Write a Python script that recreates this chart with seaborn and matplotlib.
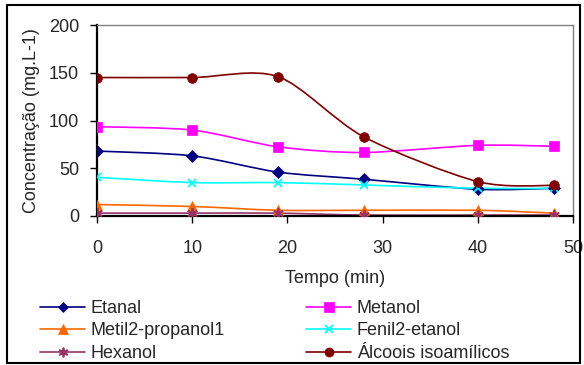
import numpy as np
import pandas as pd
import seaborn as sns
import matplotlib
matplotlib.use("Agg")
import matplotlib.pyplot as plt
from matplotlib.path import Path
from matplotlib.patches import PathPatch, Rectangle
from matplotlib.lines import Line2D

# Sampling times (min)
tempo = [0, 10, 19, 28, 40, 48]

# Concentrations (mg.L-1)
etanal = [68, 63, 46, 38.5, 28, 29]
metanol = [93.5, 90, 72.5, 66.5, 74, 73]
metil2_propanol1 = [12, 10, 6, 6, 6, 3]
fenil2_etanol = [40.5, 35, 35, 32.5, 29, 29]
hexanol = [3, 3, 3, 1, 1, 1]
alcoois_isoamilicos = [145, 145, 146, 83, 36, 32]

series_names = ["Etanal", "Metanol", "Metil2-propanol1", "Fenil2-etanol",
                "Hexanol", "Álcoois isoamílicos"]
series_values = [etanal, metanol, metil2_propanol1, fenil2_etanol,
                 hexanol, alcoois_isoamilicos]

colors = {
    "Etanal": "#000080",
    "Metanol": "#FF00FF",
    "Metil2-propanol1": "#FF6600",
    "Fenil2-etanol": "#00FFFF",
    "Hexanol": "#993366",
    "Álcoois isoamílicos": "#800000",
}
markers = {
    "Etanal": "D",
    "Metanol": "s",
    "Metil2-propanol1": "^",
    "Fenil2-etanol": "x",
    "Hexanol": (6, 2, 0),
    "Álcoois isoamílicos": "o",
}
msizes = {
    "Etanal": 6, "Metanol": 7, "Metil2-propanol1": 7,
    "Fenil2-etanol": 6, "Hexanol": 7.5, "Álcoois isoamílicos": 7,
}

df = pd.DataFrame({
    "Tempo": np.tile(tempo, len(series_names)),
    "Valor": np.concatenate(series_values),
    "Serie": np.repeat(series_names, len(tempo)),
})

sns.set_theme(style="white")
plt.rcParams["font.family"] = ["Liberation Sans", "DejaVu Sans"]
FS = 13

fig = plt.figure(figsize=(5.84, 3.65), dpi=100)
ax = fig.add_axes([97 / 584, 1 - 216 / 365, (573 - 97) / 584, (216 - 25) / 365])


def smooth_path(xs, ys, k=1 / 7.0):
    """Cubic Bezier path through the points (Catmull-Rom style smoothing)."""
    pts = np.column_stack([xs, ys]).astype(float)
    ext = np.vstack([pts[0], pts, pts[-1]])
    verts = [pts[0]]
    codes = [Path.MOVETO]
    for i in range(1, len(ext) - 2):
        p0, p1, p2, p3 = ext[i - 1], ext[i], ext[i + 1], ext[i + 2]
        c1 = p1 + (p2 - p0) * k
        c2 = p2 - (p3 - p1) * k
        verts += [c1, c2, p2]
        codes += [Path.CURVE4] * 3
    return Path(verts, codes)


thin = ("Fenil2-etanol", "Hexanol")
handles = {}
for name in series_names:
    sub = df[df["Serie"] == name]
    c = colors[name]
    ax.add_patch(PathPatch(smooth_path(sub["Tempo"], sub["Valor"]),
                           facecolor="none", edgecolor=c, lw=1.2, zorder=2))
    mk = markers[name]
    mew = 1.3 if name in thin else 0.5
    sns.lineplot(data=sub, x="Tempo", y="Valor", ax=ax, color=c,
                 linestyle="", marker=mk, markersize=msizes[name],
                 markeredgecolor=c, markerfacecolor=c,
                 markeredgewidth=mew, zorder=3, legend=False)
    handles[name] = Line2D([], [], color=c, lw=1.2, marker=mk,
                           markersize=msizes[name] - 0.5, markerfacecolor=c,
                           markeredgecolor=c, markeredgewidth=mew)

ax.set_xlim(0, 50)
ax.set_ylim(0, 200)
ax.set_xticks(range(0, 51, 10))
ax.set_yticks(range(0, 201, 50))
ax.tick_params(axis="both", labelsize=FS, direction="out", length=5, width=1,
               color="black", left=True, bottom=True)
ax.tick_params(axis="x", pad=12)
ax.tick_params(axis="y", pad=8)
for s in ("left", "bottom"):
    ax.spines[s].set_color("black")
    ax.spines[s].set_linewidth(1.6)
for s in ("top", "right"):
    ax.spines[s].set_color("#808080")
    ax.spines[s].set_linewidth(1.0)
ax.grid(False)
ax.set_facecolor("white")

ax.set_xlabel("Tempo (min)", fontsize=FS)
ax.set_ylabel("Concentração (mg.L-1)", fontsize=FS)
ax.xaxis.set_label_coords(0.5, -0.285)
ax.yaxis.set_label_coords(-0.12, 0.5)

order = ["Etanal", "Metil2-propanol1", "Hexanol",
         "Metanol", "Fenil2-etanol", "Álcoois isoamílicos"]
fig.legend([handles[n] for n in order], order, ncol=2,
           loc="upper left", bbox_to_anchor=(40 / 584, 1 - 300 / 365),
           frameon=False, fontsize=FS, borderpad=0, borderaxespad=0,
           handlelength=2.5, handletextpad=0.3, labelspacing=0.3,
           columnspacing=4.5)

fig.patches.append(Rectangle((7 / 584, 2 / 365), 573 / 584, 358 / 365,
                             transform=fig.transFigure, fill=False,
                             edgecolor="black", lw=1.5))

fig.savefig("out.png", dpi=100)
